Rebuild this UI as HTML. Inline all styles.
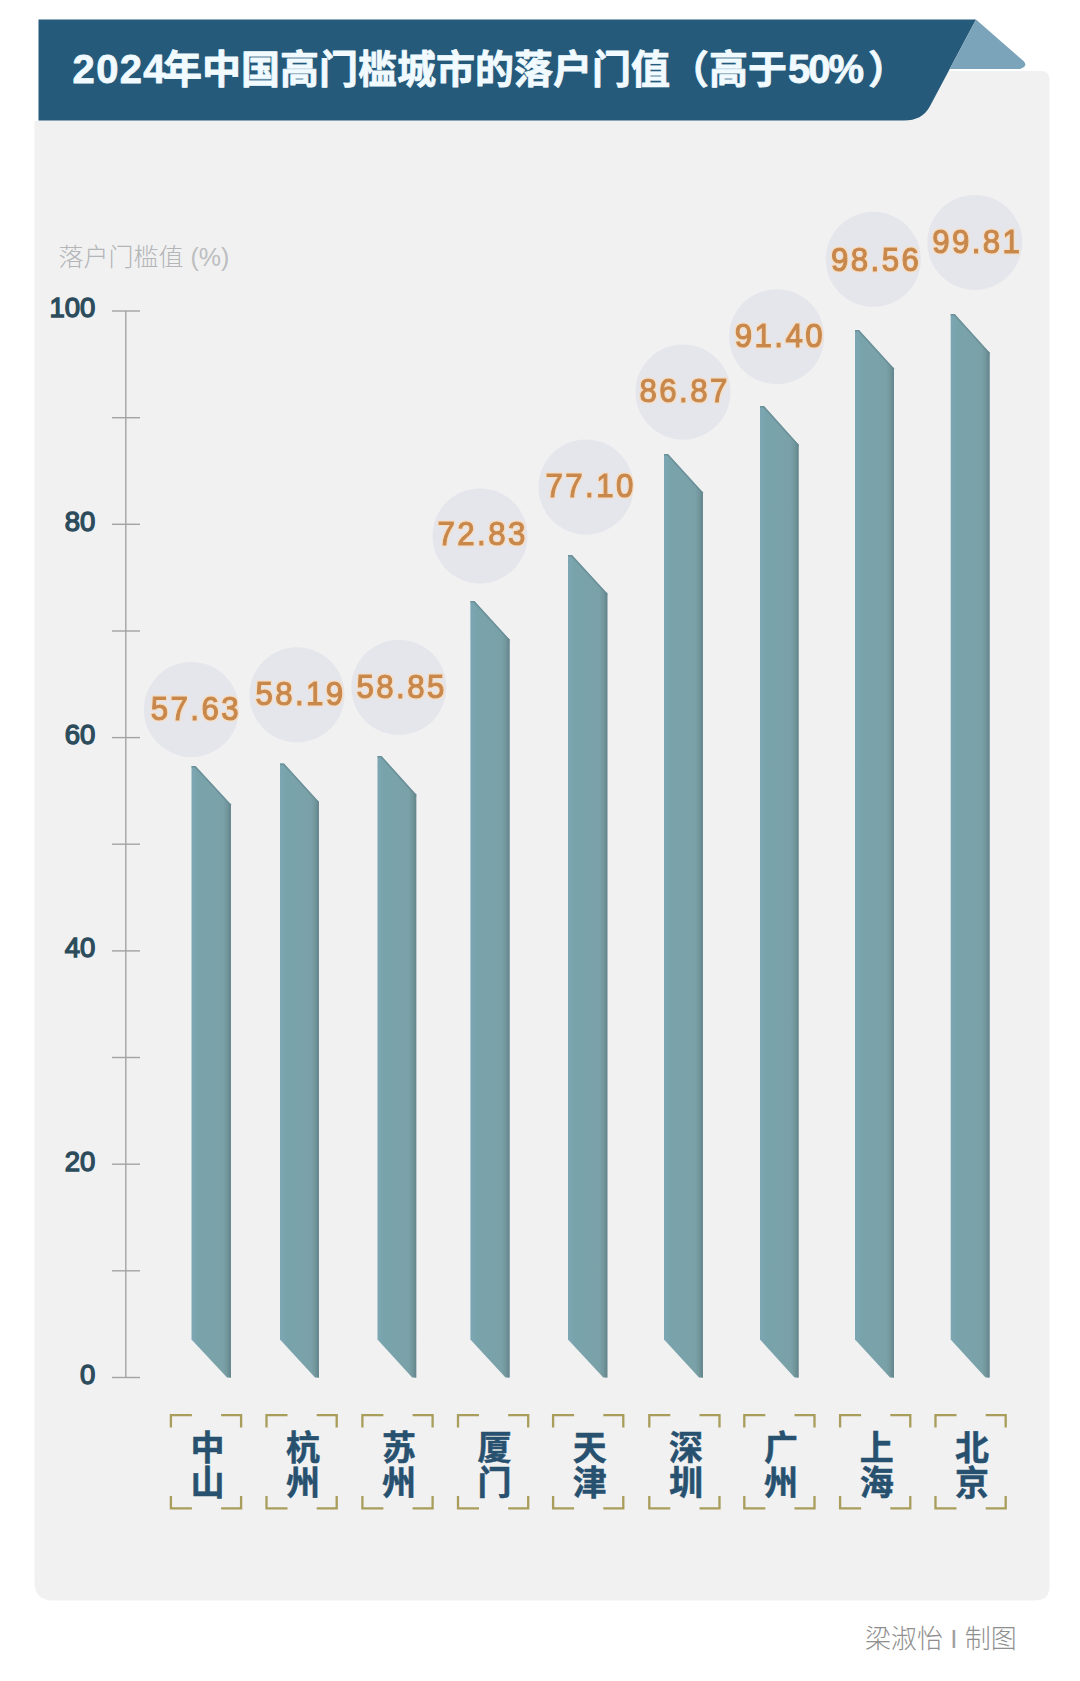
<!DOCTYPE html>
<html lang="zh-CN"><head><meta charset="utf-8"><title>2024年中国高门槛城市的落户门值</title>
<style>
html,body{margin:0;padding:0;background:#fff;}
body{width:1080px;height:1681px;overflow:hidden;font-family:"Liberation Sans", "Noto Sans CJK SC", sans-serif;}
svg{display:block;}
text{font-family:"Liberation Sans", "Noto Sans CJK SC", sans-serif;}
.title{font-size:39px;font-weight:700;fill:#f0faff;stroke:#f0faff;stroke-width:0.8px;stroke-linejoin:round;}
.ylab{font-size:25px;font-weight:300;fill:#b3b5b7;}
.tick{font-size:27.5px;font-weight:400;fill:#2c4c5c;stroke:#2c4c5c;stroke-width:1.35px;text-anchor:end;}
.val{font-size:34px;font-weight:400;fill:#c8884c;text-anchor:middle;letter-spacing:2.6px;stroke:#c8884c;stroke-width:1.15px;filter:url(#halo);}
.city{font-size:34px;font-weight:700;fill:#27516f;stroke:#27516f;stroke-width:0.5px;text-anchor:middle;}
.credit{font-size:26px;font-weight:300;fill:#8f8f8f;}
</style></head><body>
<svg width="1080" height="1681" viewBox="0 0 1080 1681">
<defs><filter id="halo" x="-10%" y="-30%" width="120%" height="160%"><feMorphology in="SourceAlpha" operator="dilate" radius="1.4" result="d"/><feGaussianBlur in="d" stdDeviation="0.5" result="b"/><feFlood flood-color="#fadcb9" flood-opacity="0.9"/><feComposite in2="b" operator="in" result="h"/><feMerge><feMergeNode in="h"/><feMergeNode in="SourceGraphic"/></feMerge></filter><linearGradient id="bg" x1="0" y1="0" x2="1" y2="0"><stop offset="0" stop-color="#7ca6b2"/><stop offset="0.18" stop-color="#79a3ab"/><stop offset="0.8" stop-color="#7aa1a8"/><stop offset="0.9" stop-color="#72979d"/><stop offset="1" stop-color="#64848b"/></linearGradient></defs>
<path d="M38.5 71 H1041 Q1049.5 71 1049.5 79.5 V1586 Q1049.5 1600.5 1035 1600.5 H53 Q34.5 1600.5 34.5 1582 V121 H38.5 Z" fill="#f1f1f2"/>
<path d="M38.5 19.5 H976 L929.5 107 Q922 120.5 904 120.5 H38.5 Z" fill="#255a7b"/>
<path d="M976 19.5 L1023.5 61 Q1028.5 66 1020 69 H949.7 Z" fill="#7ba3b9"/>
<text class="title" y="82.8"><tspan x="72.6" style="font-size:40px;letter-spacing:1.3px">2024</tspan><tspan x="163" >年中国高门槛城市的落户门值（高于</tspan><tspan x="788" style="font-size:40px;letter-spacing:-2px">50%</tspan><tspan x="868">）</tspan></text>
<text class="ylab" x="58.5" y="266.3">落户门槛值 <tspan fill="#bcbec0">(%)</tspan></text>
<g stroke="#a3a3a3" stroke-width="1.4" fill="none">
<line x1="125.8" y1="311.0" x2="125.8" y2="1377.5"/>
<line x1="112" y1="1377.5" x2="140" y2="1377.5"/>
<line x1="112" y1="1270.8" x2="140" y2="1270.8"/>
<line x1="112" y1="1164.2" x2="140" y2="1164.2"/>
<line x1="112" y1="1057.5" x2="140" y2="1057.5"/>
<line x1="112" y1="950.9" x2="140" y2="950.9"/>
<line x1="112" y1="844.2" x2="140" y2="844.2"/>
<line x1="112" y1="737.6" x2="140" y2="737.6"/>
<line x1="112" y1="631.0" x2="140" y2="631.0"/>
<line x1="112" y1="524.3" x2="140" y2="524.3"/>
<line x1="112" y1="417.7" x2="140" y2="417.7"/>
<line x1="112" y1="311.0" x2="140" y2="311.0"/>
</g>
<text class="tick" x="95.3" y="1383.8">0</text>
<text class="tick" x="95.3" y="1170.5">20</text>
<text class="tick" x="95.3" y="957.2">40</text>
<text class="tick" x="95.3" y="743.9">60</text>
<text class="tick" x="95.3" y="530.6">80</text>
<text class="tick" x="95.3" y="317.3">100</text>
<circle cx="191.4" cy="709.5" r="47.5" fill="#e5e5ec"/>
<circle cx="297.0" cy="694.8" r="47.5" fill="#e5e5ec"/>
<circle cx="398.9" cy="687.3" r="47.5" fill="#e5e5ec"/>
<circle cx="480.0" cy="535.9" r="47.5" fill="#e5e5ec"/>
<circle cx="586.0" cy="487.0" r="47.5" fill="#e5e5ec"/>
<circle cx="683.0" cy="392.0" r="47.5" fill="#e5e5ec"/>
<circle cx="776.7" cy="336.7" r="47.5" fill="#e5e5ec"/>
<circle cx="873.3" cy="259.3" r="47.5" fill="#e5e5ec"/>
<circle cx="974.8" cy="242.4" r="47.5" fill="#e5e5ec"/>
<path d="M191.5 766.0 H195.5 L231.0 804.4 V1377.6 H227.0 L191.5 1339.5 Z" fill="url(#bg)"/>
<path d="M229.4 802.7 L231.0 804.4 V1377.6 H229.4 Z" fill="#67898f"/>
<path d="M191.5 766.0 H195.5 L231.0 804.4 V806.7 L194.8 767.6 H191.5 Z" fill="#688c95" opacity="0.8"/>
<path d="M280.0 763.5 H284.0 L319.0 801.9 V1377.6 H315.0 L280.0 1339.5 Z" fill="url(#bg)"/>
<path d="M317.4 800.2 L319.0 801.9 V1377.6 H317.4 Z" fill="#67898f"/>
<path d="M280.0 763.5 H284.0 L319.0 801.9 V804.2 L283.3 765.1 H280.0 Z" fill="#688c95" opacity="0.8"/>
<path d="M377.5 756.0 H381.5 L416.2 794.4 V1377.6 H412.2 L377.5 1339.5 Z" fill="url(#bg)"/>
<path d="M414.6 792.7 L416.2 794.4 V1377.6 H414.6 Z" fill="#67898f"/>
<path d="M377.5 756.0 H381.5 L416.2 794.4 V796.7 L380.8 757.6 H377.5 Z" fill="#688c95" opacity="0.8"/>
<path d="M470.4 601.0 H474.4 L509.5 639.4 V1377.6 H505.5 L470.4 1339.5 Z" fill="url(#bg)"/>
<path d="M507.9 637.7 L509.5 639.4 V1377.6 H507.9 Z" fill="#67898f"/>
<path d="M470.4 601.0 H474.4 L509.5 639.4 V641.7 L473.7 602.6 H470.4 Z" fill="#688c95" opacity="0.8"/>
<path d="M568.0 555.0 H572.0 L607.3 593.4 V1377.6 H603.3 L568.0 1339.5 Z" fill="url(#bg)"/>
<path d="M605.7 591.7 L607.3 593.4 V1377.6 H605.7 Z" fill="#67898f"/>
<path d="M568.0 555.0 H572.0 L607.3 593.4 V595.7 L571.3 556.6 H568.0 Z" fill="#688c95" opacity="0.8"/>
<path d="M664.0 454.0 H668.0 L703.0 492.4 V1377.6 H699.0 L664.0 1339.5 Z" fill="url(#bg)"/>
<path d="M701.4 490.7 L703.0 492.4 V1377.6 H701.4 Z" fill="#67898f"/>
<path d="M664.0 454.0 H668.0 L703.0 492.4 V494.7 L667.3 455.6 H664.0 Z" fill="#688c95" opacity="0.8"/>
<path d="M760.0 406.0 H764.0 L798.5 444.4 V1377.6 H794.5 L760.0 1339.5 Z" fill="url(#bg)"/>
<path d="M796.9 442.7 L798.5 444.4 V1377.6 H796.9 Z" fill="#67898f"/>
<path d="M760.0 406.0 H764.0 L798.5 444.4 V446.7 L763.3 407.6 H760.0 Z" fill="#688c95" opacity="0.8"/>
<path d="M855.0 330.0 H859.0 L894.0 368.4 V1377.6 H890.0 L855.0 1339.5 Z" fill="url(#bg)"/>
<path d="M892.4 366.7 L894.0 368.4 V1377.6 H892.4 Z" fill="#67898f"/>
<path d="M855.0 330.0 H859.0 L894.0 368.4 V370.7 L858.3 331.6 H855.0 Z" fill="#688c95" opacity="0.8"/>
<path d="M950.7 314.0 H954.7 L989.5 352.4 V1377.6 H985.5 L950.7 1339.5 Z" fill="url(#bg)"/>
<path d="M987.9 350.7 L989.5 352.4 V1377.6 H987.9 Z" fill="#67898f"/>
<path d="M950.7 314.0 H954.7 L989.5 352.4 V354.7 L954.0 315.6 H950.7 Z" fill="#688c95" opacity="0.8"/>
<text class="val" transform="translate(195.9 719.8) scale(0.92 1)" x="0" y="0">57.63</text>
<text class="val" transform="translate(300.5 705.4) scale(0.92 1)" x="0" y="0">58.19</text>
<text class="val" transform="translate(401.6 698.0) scale(0.92 1)" x="0" y="0">58.85</text>
<text class="val" transform="translate(482.6 545.0) scale(0.92 1)" x="0" y="0">72.83</text>
<text class="val" transform="translate(590.6 496.8) scale(0.92 1)" x="0" y="0">77.10</text>
<text class="val" transform="translate(684.6 402.3) scale(0.92 1)" x="0" y="0">86.87</text>
<text class="val" transform="translate(779.9 347.1) scale(0.92 1)" x="0" y="0">91.40</text>
<text class="val" transform="translate(876.1 270.6) scale(0.92 1)" x="0" y="0">98.56</text>
<text class="val" transform="translate(977.3 252.8) scale(0.92 1)" x="0" y="0">99.81</text>
<g stroke="#a99d5b" stroke-width="2.3" fill="none">
<path d="M170.9 1427.6 V1415.2 H191.9 M221.1 1415.2 H241.1 V1427.6 M170.9 1495.9 V1508.3 H191.9 M221.1 1508.3 H241.1 V1495.9"/>
<path d="M266.5 1427.6 V1415.2 H287.5 M316.7 1415.2 H336.7 V1427.6 M266.5 1495.9 V1508.3 H287.5 M316.7 1508.3 H336.7 V1495.9"/>
<path d="M362.4 1427.6 V1415.2 H383.4 M412.6 1415.2 H432.6 V1427.6 M362.4 1495.9 V1508.3 H383.4 M412.6 1508.3 H432.6 V1495.9"/>
<path d="M458.0 1427.6 V1415.2 H479.0 M508.2 1415.2 H528.2 V1427.6 M458.0 1495.9 V1508.3 H479.0 M508.2 1508.3 H528.2 V1495.9"/>
<path d="M553.1 1427.6 V1415.2 H574.1 M603.3 1415.2 H623.3 V1427.6 M553.1 1495.9 V1508.3 H574.1 M603.3 1508.3 H623.3 V1495.9"/>
<path d="M649.3 1427.6 V1415.2 H670.3 M699.5 1415.2 H719.5 V1427.6 M649.3 1495.9 V1508.3 H670.3 M699.5 1508.3 H719.5 V1495.9"/>
<path d="M744.3 1427.6 V1415.2 H765.3 M794.5 1415.2 H814.5 V1427.6 M744.3 1495.9 V1508.3 H765.3 M794.5 1508.3 H814.5 V1495.9"/>
<path d="M840.1 1427.6 V1415.2 H861.1 M890.3 1415.2 H910.3 V1427.6 M840.1 1495.9 V1508.3 H861.1 M890.3 1508.3 H910.3 V1495.9"/>
<path d="M935.5 1427.6 V1415.2 H956.5 M985.7 1415.2 H1005.7 V1427.6 M935.5 1495.9 V1508.3 H956.5 M985.7 1508.3 H1005.7 V1495.9"/>
</g>
<text class="city" x="207.5" y="1460">中</text>
<text class="city" x="207.5" y="1494.5">山</text>
<text class="city" x="303.1" y="1460">杭</text>
<text class="city" x="303.1" y="1494.5">州</text>
<text class="city" x="399.0" y="1460">苏</text>
<text class="city" x="399.0" y="1494.5">州</text>
<text class="city" x="494.6" y="1460">厦</text>
<text class="city" x="494.6" y="1494.5">门</text>
<text class="city" x="589.7" y="1460">天</text>
<text class="city" x="589.7" y="1494.5">津</text>
<text class="city" x="685.9" y="1460">深</text>
<text class="city" x="685.9" y="1494.5">圳</text>
<text class="city" x="780.9" y="1460">广</text>
<text class="city" x="780.9" y="1494.5">州</text>
<text class="city" x="876.7" y="1460">上</text>
<text class="city" x="876.7" y="1494.5">海</text>
<text class="city" x="972.1" y="1460">北</text>
<text class="city" x="972.1" y="1494.5">京</text>
<text class="credit" x="865" y="1648">梁淑怡 <tspan fill="#a0a0a0">I</tspan> 制图</text>
</svg></body></html>
